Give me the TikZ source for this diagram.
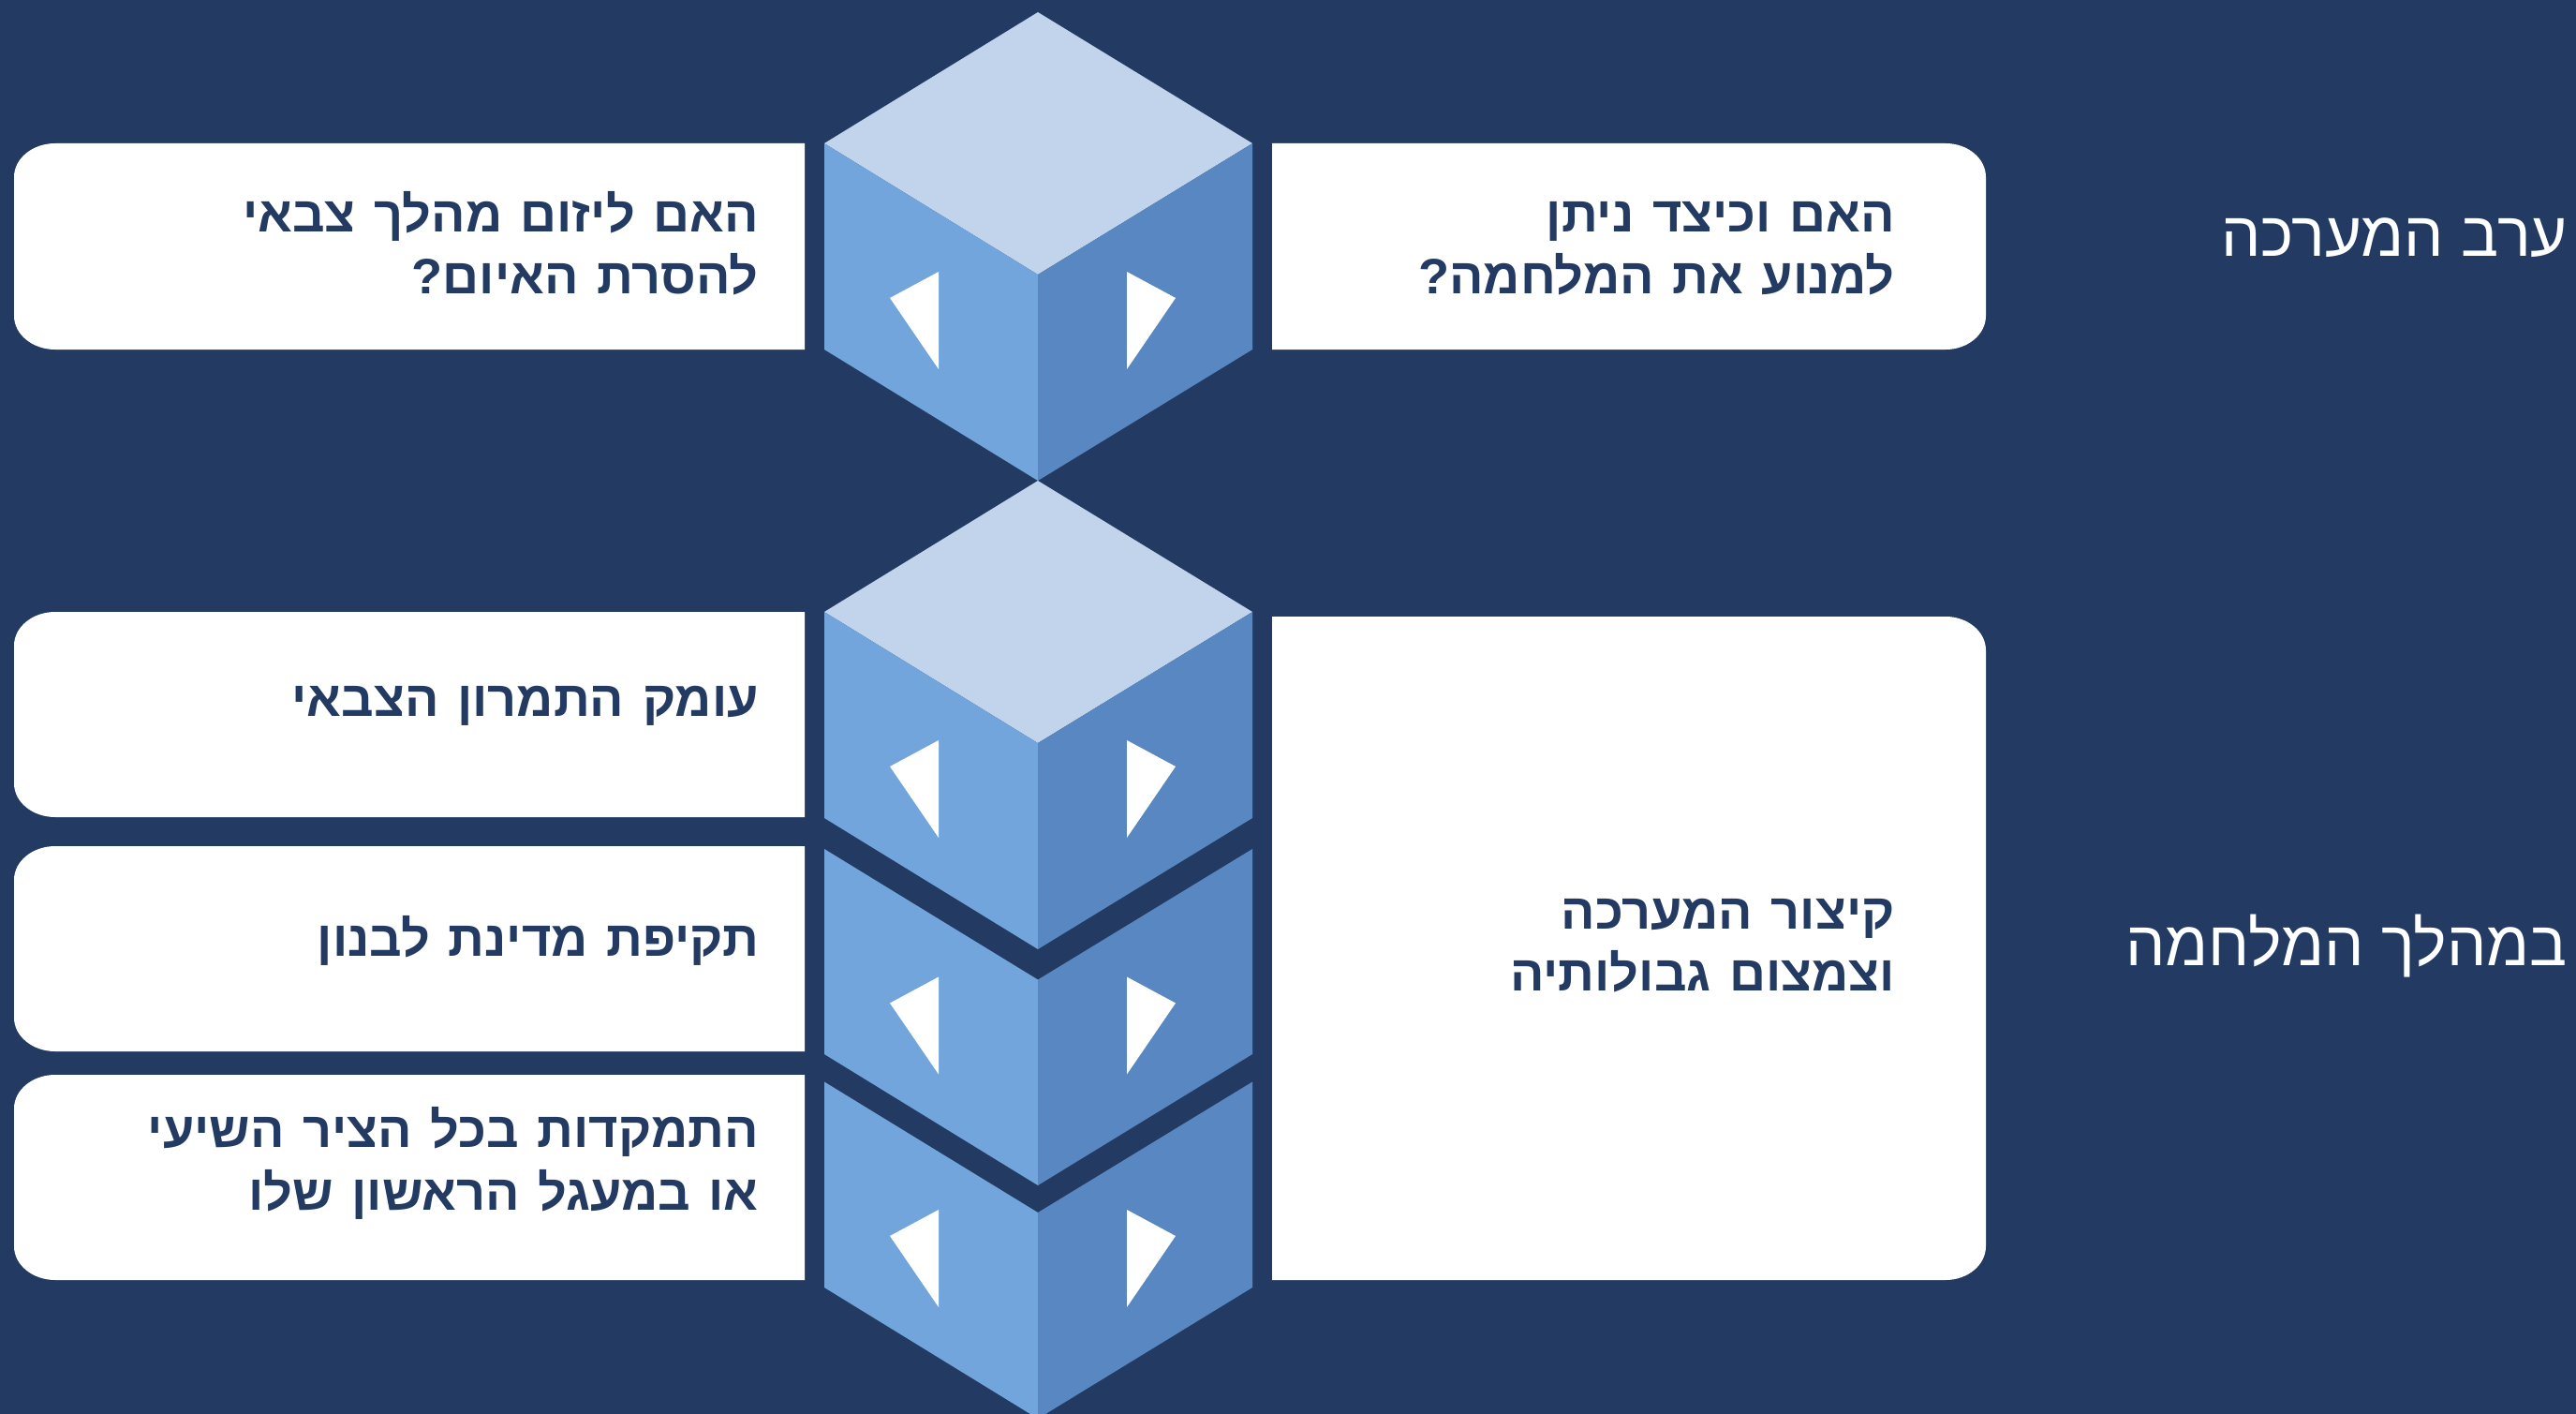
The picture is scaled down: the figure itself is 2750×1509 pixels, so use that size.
\documentclass[tikz,border=0pt]{standalone}
\usepackage{fontspec}
\setmainfont{Liberation Sans}
\newfontfamily\boxfont[Script=Hebrew,FakeStretch=1.02,WordSpace=1.3]{Liberation Sans Bold}
\newfontfamily\labfont[Script=Hebrew]{Liberation Sans}
\TeXXeTstate=1
\definecolor{bgnavy}{HTML}{233B63}
\definecolor{facetop}{HTML}{C1D4EC}
\definecolor{faceleft}{HTML}{71A5DB}
\definecolor{faceright}{HTML}{5887C1}
\tikzset{
  boxtext/.style={anchor=base east, inner sep=0pt, text=bgnavy, font={\boxfont\fontsize{53pt}{60pt}\selectfont}},
  phaselabel/.style={anchor=base east, inner sep=0pt, text=white, font={\labfont\fontsize{67pt}{72pt}\selectfont}},
  whitebox/.style={fill=white},
}
% left box: x0 y0 x1 y1 (rounded on left)
\newcommand{\leftbox}[4]{%
  \fill[whitebox] (#3,#2) -- ({#1+44},#2) arc[start angle=270,end angle=180,x radius=44,y radius=36]
   -- (#1,{#4-36}) arc[start angle=180,end angle=90,x radius=44,y radius=36] -- (#3,#4) -- cycle;}
% right box: x0 y0 x1 y1 (rounded on right)
\newcommand{\rightbox}[4]{%
  \fill[whitebox] (#1,#2) -- ({#3-43},#2) arc[start angle=270,end angle=360,x radius=43,y radius=36]
   -- (#3,{#4-36}) arc[start angle=0,end angle=90,x radius=43,y radius=36] -- (#1,#4) -- cycle;}
% prism sides: #1 centre vertex y, #2 upper side corner y, #3 lower side corner y, #4 bottom vertex y
\newcommand{\prismsides}[4]{%
  \fill[faceleft] (880,#2) -- (1108,#1) -- (1108,#4) -- (880,#3) -- cycle;
  \fill[faceright] (1108,#1) -- (1337,#2) -- (1337,#3) -- (1108,#4) -- cycle;
  \fill[white] (1002,{#1-3}) -- (950,{#1+25}) -- (1002,{#1+101}) -- cycle;
  \fill[white] (1203,{#1-3}) -- (1255,{#1+25}) -- (1203,{#1+101}) -- cycle;}
% prism top: #1 top vertex y, #2 side corner y, #3 centre vertex y
\newcommand{\prismtop}[3]{%
  \fill[facetop] (1108,#1) -- (880,#2) -- (1108,#3) -- (1337,#2) -- cycle;}
\begin{document}
\begin{tikzpicture}[x=1pt,y=-1pt]
\fill[bgnavy] (0,0) rectangle (2750,1509);
\useasboundingbox (0,0) rectangle (2750,1509);
% boxes
\leftbox{15}{153}{859}{373}
\leftbox{15}{653}{859}{872}
\leftbox{15}{903}{859}{1122}
\leftbox{15}{1147}{859}{1366}
\rightbox{1358}{153}{2120}{373}
\rightbox{1358}{658}{2120}{1366}
% cubes
\prismtop{13}{153}{293}
\prismsides{293}{153}{373}{513}
\prismtop{513}{653}{793}
\prismsides{793}{653}{873}{1013}
\prismsides{1045.5}{906}{1125}{1265}
\prismsides{1294}{1154.5}{1374}{1514}
% texts
\node[boxtext] (a1) at (810,247) {\beginR האם ליזום מהלך צבאי\endR};
\node[boxtext] (a2) at (810,313) {\beginR להסרת האיום?\endR};
\node[boxtext] (b1) at (2023,247) {\beginR האם וכיצד ניתן\endR};
\node[boxtext] (b2) at (2023,313) {\beginR למנוע את המלחמה?\endR};
\node[boxtext] (c1) at (810,764) {\beginR עומק התמרון הצבאי\endR};
\node[boxtext] (d1) at (810,1020) {\beginR תקיפת מדינת לבנון\endR};
\node[boxtext] (e1) at (810,1224) {\beginR התמקדות בכל הציר השיעי\endR};
\node[boxtext] (e2) at (810,1291) {\beginR או במעגל הראשון שלו\endR};
\node[boxtext] (f1) at (2023,991) {\beginR קיצור המערכה\endR};
\node[boxtext] (f2) at (2023,1057) {\beginR וצמצום גבולותיה\endR};
\node[phaselabel] (p1) at (2741,273) {\beginR ערב המערכה\endR};
\node[phaselabel] (p2) at (2741,1030) {\beginR במהלך המלחמה\endR};
\end{tikzpicture}
\end{document}
